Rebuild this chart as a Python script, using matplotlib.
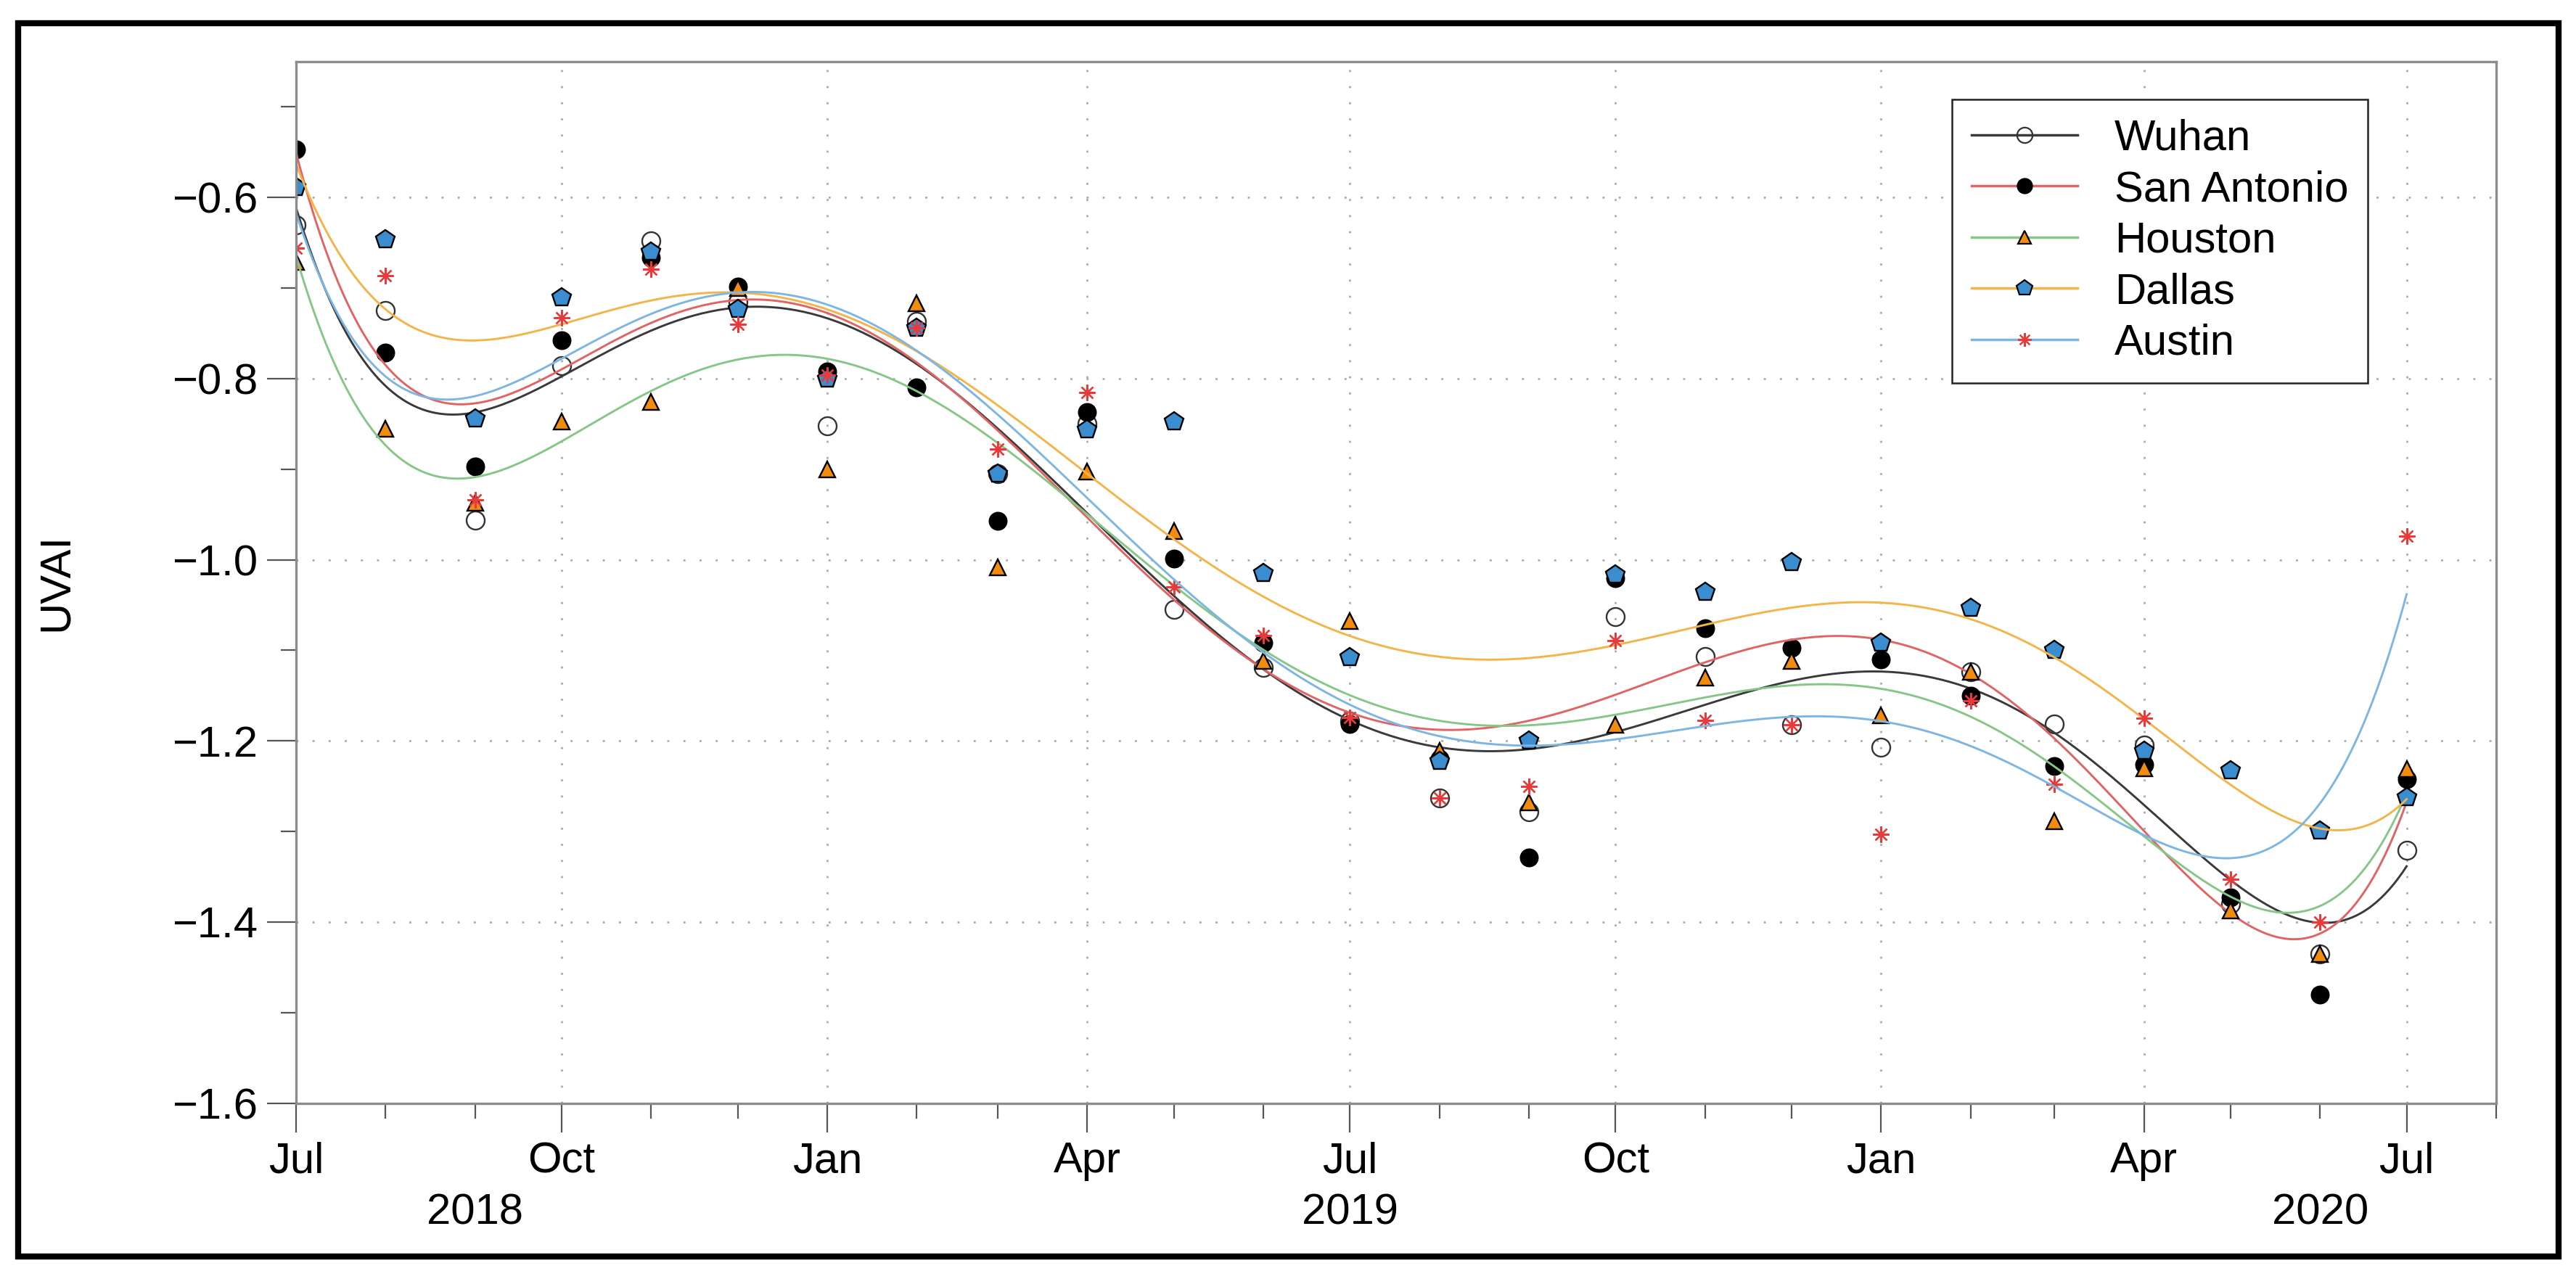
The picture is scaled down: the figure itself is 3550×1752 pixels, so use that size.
import matplotlib
matplotlib.use("Agg")
import matplotlib.pyplot as plt
import matplotlib.dates as mdates
from matplotlib.lines import Line2D
from matplotlib.patches import Rectangle
import numpy as np
import pandas as pd

# monthly UVAI, Jul 2018 .. Jul 2020
months = pd.date_range("2018-07-01", "2020-07-01", freq="MS")

wuhan = [-0.630, -0.725, -0.956, -0.786, -0.648, -0.715, -0.852, -0.737, -0.905,
         -0.850, -1.055, -1.119, -1.178, -1.263, -1.278, -1.063, -1.107, -1.182,
         -1.207, -1.124, -1.181, -1.205, -1.380, -1.435, -1.321]
san_antonio = [-0.547, -0.771, -0.897, -0.758, -0.666, -0.698, -0.792, -0.810, -0.957,
               -0.837, -0.999, -1.092, -1.181, -1.220, -1.329, -1.020, -1.076, -1.097,
               -1.110, -1.150, -1.228, -1.226, -1.373, -1.480, -1.242]
houston = [-0.671, -0.855, -0.937, -0.847, -0.826, -0.700, -0.900, -0.717, -1.008,
           -0.903, -0.968, -1.112, -1.068, -1.211, -1.268, -1.182, -1.130, -1.112,
           -1.172, -1.124, -1.289, -1.230, -1.387, -1.435, -1.231]
dallas = [-0.589, -0.646, -0.844, -0.710, -0.660, -0.723, -0.800, -0.744, -0.905,
          -0.856, -0.847, -1.015, -1.108, -1.222, -1.200, -1.016, -1.036, -1.003,
          -1.092, -1.053, -1.100, -1.211, -1.233, -1.299, -1.262]
austin = [-0.656, -0.686, -0.934, -0.733, -0.679, -0.740, -0.796, -0.744, -0.878,
          -0.815, -1.030, -1.084, -1.174, -1.263, -1.250, -1.089, -1.177, -1.182,
          -1.303, -1.156, -1.248, -1.175, -1.353, -1.400, -0.974]

names = ["Wuhan", "San Antonio", "Houston", "Dallas", "Austin"]
series = [wuhan, san_antonio, houston, dallas, austin]

year_labels = ["2018", "2019", "2020"]
year_label_dates = ["2018-09-01", "2019-07-01", "2020-06-01"]

# styles: fit line colour, marker, face, edge, size
line_colors = ["#3a3a3a", "#e06464", "#86c686", "#f3b44a", "#7db5e3"]
markers = ["o", "o", "^", "p", (8, 2, 0)]
faces = ["none", "black", "#f28c0f", "#3a8ed0", "#e83a3a"]
edges = ["#333333", "black", "black", "black", "#e83a3a"]
sizes = [18, 17, 16, 19, 16]

plt.rcParams['font.family'] = ['Liberation Sans', 'DejaVu Sans']
plt.rcParams['font.size'] = 43

fig = plt.figure(figsize=(35.5, 17.52), dpi=100)
ax = fig.add_axes([0.1149, 0.1321, 0.8541, 0.8194])
ax.set_axisbelow(True)

x = mdates.date2num(months)
xm, xsd = x.mean(), x.std()
xs = np.linspace(x[0], x[-1], 500)

handles = []
for i, (name, y) in enumerate(zip(names, series)):
    ax.plot(months, y, ls="none", marker=markers[i], ms=sizes[i],
            mfc=faces[i], mec=edges[i], mew=1.7)
    # polynomial fit through each city's points
    coef = np.polyfit((x - xm) / xsd, y, 6)
    ax.plot(mdates.num2date(xs), np.polyval(coef, (xs - xm) / xsd),
            color=line_colors[i], lw=2.1)
    handles.append(Line2D([], [], color=line_colors[i], lw=2.5, marker=markers[i],
                          ms=sizes[i] * 0.85, mfc=faces[i], mec=edges[i], mew=1.6))

ax.set_xlim(mdates.datestr2num("2018-07-01"), mdates.datestr2num("2020-08-01"))
ax.set_ylim(-1.6, -0.45)

ax.xaxis.set_major_locator(mdates.MonthLocator(bymonth=[1, 4, 7, 10]))
ax.xaxis.set_major_formatter(mdates.DateFormatter("%b"))
ax.xaxis.set_minor_locator(mdates.MonthLocator())
ax.set_yticks(np.arange(-1.6, -0.55, 0.2))
ax.set_yticks(np.arange(-1.5, -0.45, 0.2), minor=True)
ax.yaxis.set_major_formatter(plt.FuncFormatter(lambda v, p: f"{v:.1f}".replace("-", "\u2212")))

ax.tick_params(which="major", length=29, width=1.6, color="#555555", pad=9, labelsize=43)
ax.tick_params(which="minor", length=15, width=1.6, color="#555555")

ax.grid(True, which="major", color="#aaaaaa", lw=2.0, ls=(0, (1, 7)))

for s in ax.spines.values():
    s.set_color("#8c8c8c")
    s.set_linewidth(2.4)

for lab, d in zip(year_labels, year_label_dates):
    ax.text(mdates.datestr2num(d), -0.1055, lab, transform=ax.get_xaxis_transform(),
            ha="center", va="center", fontsize=43)

fig.text(77 / 3550, 0.5418, "UVAI", rotation=90, ha="center", va="center", fontsize=43)

leg = ax.legend(handles, names, loc="upper left", bbox_to_anchor=(0.7526, 0.964),
                borderaxespad=0, fancybox=False, framealpha=1, edgecolor="#222222",
                fontsize=43, borderpad=0.45, labelspacing=0.26, handlelength=2.45,
                handletextpad=0.85)
leg.get_frame().set_linewidth(1.8)

fig.patches.append(Rectangle((0.007, 0.0114), 0.9862, 0.9703, transform=fig.transFigure,
                             fill=False, edgecolor="black", lw=6))

fig.savefig("out.png", dpi=100, facecolor="white")
